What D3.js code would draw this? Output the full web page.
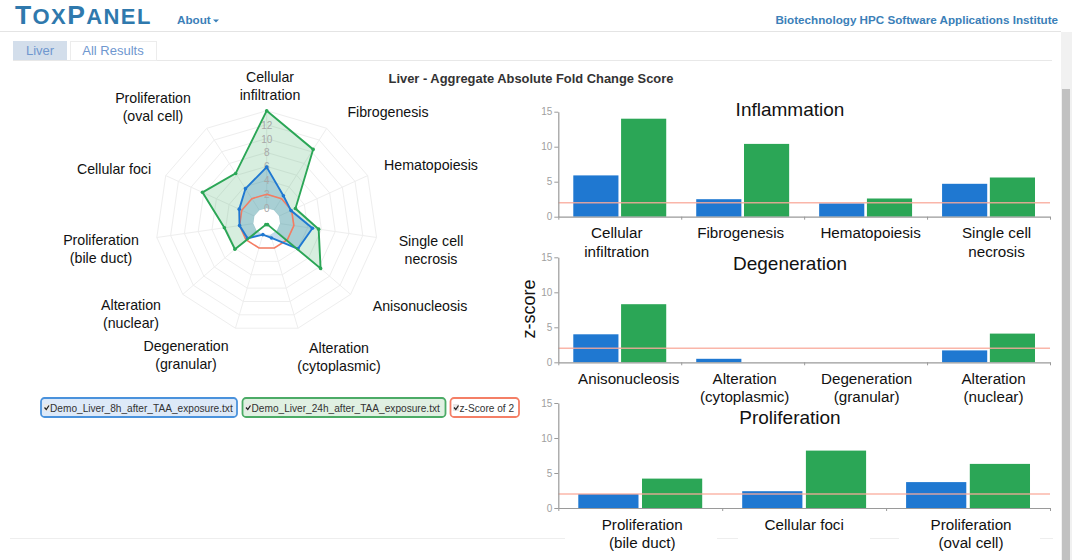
<!DOCTYPE html>
<html>
<head>
<meta charset="utf-8">
<script src="https://d3js.org/d3.v7.min.js"></script>
<style>
  html, body { margin: 0; padding: 0; background: #fff; overflow: hidden; }
  svg { display: block; font-family: "Liberation Sans", Arial, sans-serif; }
</style>
</head>
<body>
<svg id="chart" width="1072" height="560"></svg>
<script>
// order follows the radar, clockwise from the top
const categories = [
    "Cellular|infiltration", "Fibrogenesis", "Hematopoiesis", "Single cell|necrosis",
    "Anisonucleosis", "Alteration|(cytoplasmic)", "Degeneration|(granular)", "Alteration|(nuclear)",
    "Proliferation|(bile duct)", "Cellular foci", "Proliferation|(oval cell)"
];
// null = no bar drawn, the radar drops those to near the centre
const hours8 = [5.9, 2.5, 1.9, 4.7, 4.0, 0.5, 0, 1.7, 2.0, 2.4, 3.7];
const hours24 = [14, 10.4, 2.6, 5.6, 8.3, null, null, 4.1, 4.2, 8.2, 6.3];
const zThreshold = 2;

const legendLabels = ["Demo_Liver_8h_after_TAA_exposure.txt", "Demo_Liver_24h_after_TAA_exposure.txt", "z-Score of 2"];
const radarTicks = [0, 2, 4, 6, 8, 10, 12, 14];
const barTicks = [0, 5, 10, 15];
const panelTitles = ["Inflammation", "Degeneration", "Proliferation"];
const panelGroups = [[0, 1, 2, 3], [4, 5, 6, 7], [8, 9, 10]];

const BLUE = "#1f78d1", GREEN = "#2ba656", RED = "#f47c62", LINK = "#3b80b8";

const svg = d3.select("#chart");

function multiline(sel, lineHeight) {
    sel.each(function (d) {
        const t = d3.select(this);
        d.label.split("|").forEach((s, i) => {
            t.append("tspan").attr("x", d.x).attr("y", d.y + i * lineHeight).text(s);
        });
    });
}

function pageFrame() {
    const logo = svg.append("text").attr("x", 15).attr("y", 24)
        .attr("fill", "#2f79ad").attr("font-weight", "bold").attr("letter-spacing", 1.4);
    [["T", 26.5], ["OX", 22], ["P", 26.5], ["ANEL", 22]].forEach(([s, size]) => {
        logo.append("tspan").attr("font-size", size).text(s);
    });

    svg.append("text").attr("x", 177).attr("y", 24).attr("font-size", 11.7)
        .attr("font-weight", "bold").attr("fill", LINK).text("About");
    svg.append("path").attr("d", "M213,19.5h6l-3,3z").attr("fill", LINK);
    svg.append("text").attr("x", 1058).attr("y", 24).attr("text-anchor", "end").attr("font-size", 11.67)
        .attr("font-weight", "bold").attr("fill", LINK).text("Biotechnology HPC Software Applications Institute");

    svg.append("line").attr("x1", 0).attr("x2", 1061).attr("y1", 31.5).attr("y2", 31.5).attr("stroke", "#e4e4e4");

    // scrollbar
    svg.append("rect").attr("x", 1061).attr("y", 32).attr("width", 11).attr("height", 528).attr("fill", "#f1f1f1");
    svg.append("rect").attr("x", 1062).attr("y", 89).attr("width", 8).attr("height", 471).attr("fill", "#c1c1c1");

    // tabs
    svg.append("line").attr("x1", 13).attr("x2", 1052).attr("y1", 60.5).attr("y2", 60.5).attr("stroke", "#e8e8e8");
    svg.append("rect").attr("x", 13).attr("y", 41).attr("width", 54).attr("height", 19).attr("fill", "#d3deeb");
    svg.append("rect").attr("x", 70.5).attr("y", 41.5).attr("width", 86).attr("height", 19)
        .attr("fill", "#fff").attr("stroke", "#ececec");
    svg.append("text").attr("x", 40).attr("y", 55).attr("text-anchor", "middle").attr("font-size", 13)
        .attr("fill", "#6f97cf").text("Liver");
    svg.append("text").attr("x", 113).attr("y", 55).attr("text-anchor", "middle").attr("font-size", 13)
        .attr("fill", "#6f97cf").text("All Results");

    svg.append("text").attr("x", 531).attr("y", 83).attr("text-anchor", "middle").attr("font-size", 12.9)
        .attr("font-weight", "bold").attr("fill", "#333").text("Liver - Aggregate Absolute Fold Change Score");

    // footer rule, broken where the bar labels sit
    [[10, 565], [717, 738], [870, 899], [1040, 1053]].forEach(([a, b]) => {
        svg.append("line").attr("x1", a).attr("x2", b).attr("y1", 538.5).attr("y2", 538.5).attr("stroke", "#eeeeee");
    });
}

function radar() {
    const cx = 266.7, cy = 221.7;
    const r = d3.scaleLinear().domain([0, 14]).range([13.5, 111]);
    const angle = d3.scalePoint().domain(d3.range(categories.length + 1))
        .range([0, 2 * Math.PI]);
    const missing = -1.5;

    const g = svg.append("g").attr("transform", `translate(${cx},${cy})`);
    const radial = d3.lineRadial().angle((d, i) => angle(i)).radius(d => r(d === null ? missing : d)).curve(d3.curveLinearClosed);
    const ring = v => categories.map(() => v);

    // web
    radarTicks.forEach(v => {
        g.append("path").attr("d", radial(ring(v))).attr("fill", "none").attr("stroke", "#eeeeee");
    });
    categories.forEach((c, i) => {
        const a = angle(i);
        g.append("line")
            .attr("x1", r(0) * Math.sin(a)).attr("y1", -r(0) * Math.cos(a))
            .attr("x2", r(14) * Math.sin(a)).attr("y2", -r(14) * Math.cos(a))
            .attr("stroke", "#eeeeee");
    });

    // fills first so the hole can be punched over them
    g.append("path").attr("d", radial(hours24)).attr("fill", GREEN).attr("fill-opacity", 0.19);
    g.append("path").attr("d", radial(hours8)).attr("fill", "#2a7fb8").attr("fill-opacity", 0.27);
    g.append("path").attr("d", radial(ring(0))).attr("fill", "#fff");

    g.selectAll(".rtick").data(radarTicks.slice(0, -1)).join("text")
        .attr("class", "rtick").attr("y", d => -r(d) + 4).attr("text-anchor", "middle")
        .attr("font-size", 10).attr("fill", "#a8a8a8").text(d => d);

    g.append("path").attr("d", radial(ring(zThreshold))).attr("fill", "none").attr("stroke", RED).attr("stroke-width", 1.6);

    [[hours8, BLUE], [hours24, GREEN]].forEach(([values, colour]) => {
        g.append("path").attr("d", radial(values)).attr("fill", "none").attr("stroke", colour).attr("stroke-width", 1.9);
        g.selectAll(null).data(values).join("circle")
            .attr("cx", (d, i) => r(d === null ? missing : d) * Math.sin(angle(i)))
            .attr("cy", (d, i) => -r(d === null ? missing : d) * Math.cos(angle(i)))
            .attr("r", 1.8).attr("fill", colour);
    });

    // label anchors around the web, same order as categories
    const labelAt = [[270, 82], [388, 117], [431, 170], [431, 246], [420, 311], [339, 353],
                     [186, 351], [131, 310], [101, 245], [114, 174], [153, 103]];
    svg.selectAll(".rlabel").data(categories.map((label, i) => ({ label, x: labelAt[i][0], y: labelAt[i][1] })))
        .join("text").attr("class", "rlabel").attr("text-anchor", "middle")
        .attr("font-size", 14.2).attr("fill", "#111").call(multiline, 17.5);
}

function legend() {
    const boxes = [
        { x: 41, w: 196, stroke: "#4a92dc", fill: "#dde9f8" },
        { x: 242.5, w: 203, stroke: "#4cab66", fill: "#e0f0e2" },
        { x: 450.5, w: 68.5, stroke: "#f47f66", fill: "#fff" }
    ];
    legendLabels.forEach((label, i) => {
        const b = boxes[i];
        svg.append("rect").attr("x", b.x).attr("y", 398).attr("width", b.w).attr("height", 19).attr("rx", 3.5)
            .attr("fill", b.fill).attr("stroke", b.stroke).attr("stroke-width", 1.8);
        svg.append("rect").attr("x", b.x + 2.5).attr("y", 404).attr("width", 6).attr("height", 7)
            .attr("fill", "#e8e8e8");
        svg.append("path").attr("d", `M${b.x + 3.5},407.5l1.8,2l2.7,-4`).attr("fill", "none")
            .attr("stroke", "#222").attr("stroke-width", 1.3);
        svg.append("text").attr("x", b.x + 9).attr("y", 411.5).attr("font-size", 10.15)
            .attr("fill", "#333").text(label);
    });
}

function barPanel(title, members, top, titleY, labelShift) {
    const left = 558.3, right = 1050, height = 105;
    const y = d3.scaleLinear().domain([0, 15]).range([top + height, top]);
    const x = d3.scaleBand().domain(members).range([left, right]);
    const series = d3.scaleBand().domain([0, 1])
        .range([x.bandwidth() * 0.122, x.bandwidth() * 0.878]).paddingInner(0.055);
    const slots = d3.scaleLinear().domain([0, members.length]).range([left, right]);

    const g = svg.append("g");
    [hours8, hours24].forEach((values, s) => {
        g.selectAll(null).data(members.filter(m => values[m] !== null)).join("rect")
            .attr("x", m => x(m) + series(s))
            .attr("width", series.bandwidth())
            .attr("y", m => y(values[m]))
            .attr("height", m => y(0) - y(values[m]))
            .attr("fill", s ? GREEN : BLUE);
    });

    g.append("line").attr("x1", left).attr("x2", right).attr("y1", y(zThreshold)).attr("y2", y(zThreshold))
        .attr("stroke", "#f9a99a").attr("stroke-width", 1.4).attr("stroke-opacity", 0.85);

    const yAxis = g.append("g").attr("transform", `translate(${left},0)`)
        .call(d3.axisLeft(y).tickValues(barTicks).tickSize(4).tickSizeOuter(0));
    const xAxis = g.append("g").attr("transform", `translate(0,${y(0)})`)
        .call(d3.axisBottom(slots).tickValues(d3.range(members.length + 1)).tickFormat("").tickSize(3).tickSizeOuter(0));
    [yAxis, xAxis].forEach(a => {
        a.selectAll("path, line").attr("stroke", "#9a9a9a");
        a.select(".domain").attr("stroke-width", 1.2);
        a.selectAll("text").attr("fill", "#a0a0a0").attr("font-size", 10).attr("font-family", "inherit");
    });
    yAxis.selectAll("text").attr("dx", 1);

    g.append("text").attr("x", 790).attr("y", titleY).attr("text-anchor", "middle")
        .attr("font-size", 19).attr("fill", "#111").text(title);

    g.selectAll(".blabel")
        .data(members.map((m, i) => ({
            label: categories[m],
            x: x(m) + x.bandwidth() / 2 + labelShift[i],
            y: y(0) + 21.5
        })))
        .join("text").attr("class", "blabel").attr("text-anchor", "middle")
        .attr("font-size", 15.2).attr("fill", "#111").call(multiline, 18.5);
}

pageFrame();
radar();
legend();
barPanel(panelTitles[0], panelGroups[0], 111.7, 116, [-3, -2, 5, 8]);
barPanel(panelTitles[1], panelGroups[1], 257.3, 270, [9, 2, 1, 5]);
barPanel(panelTitles[2], panelGroups[2], 403, 424, [2, 0, 3]);

svg.append("text").attr("transform", "translate(535,309) rotate(-90)").attr("text-anchor", "middle")
    .attr("font-size", 18).attr("fill", "#111").text("z-score");
</script>
</body>
</html>
